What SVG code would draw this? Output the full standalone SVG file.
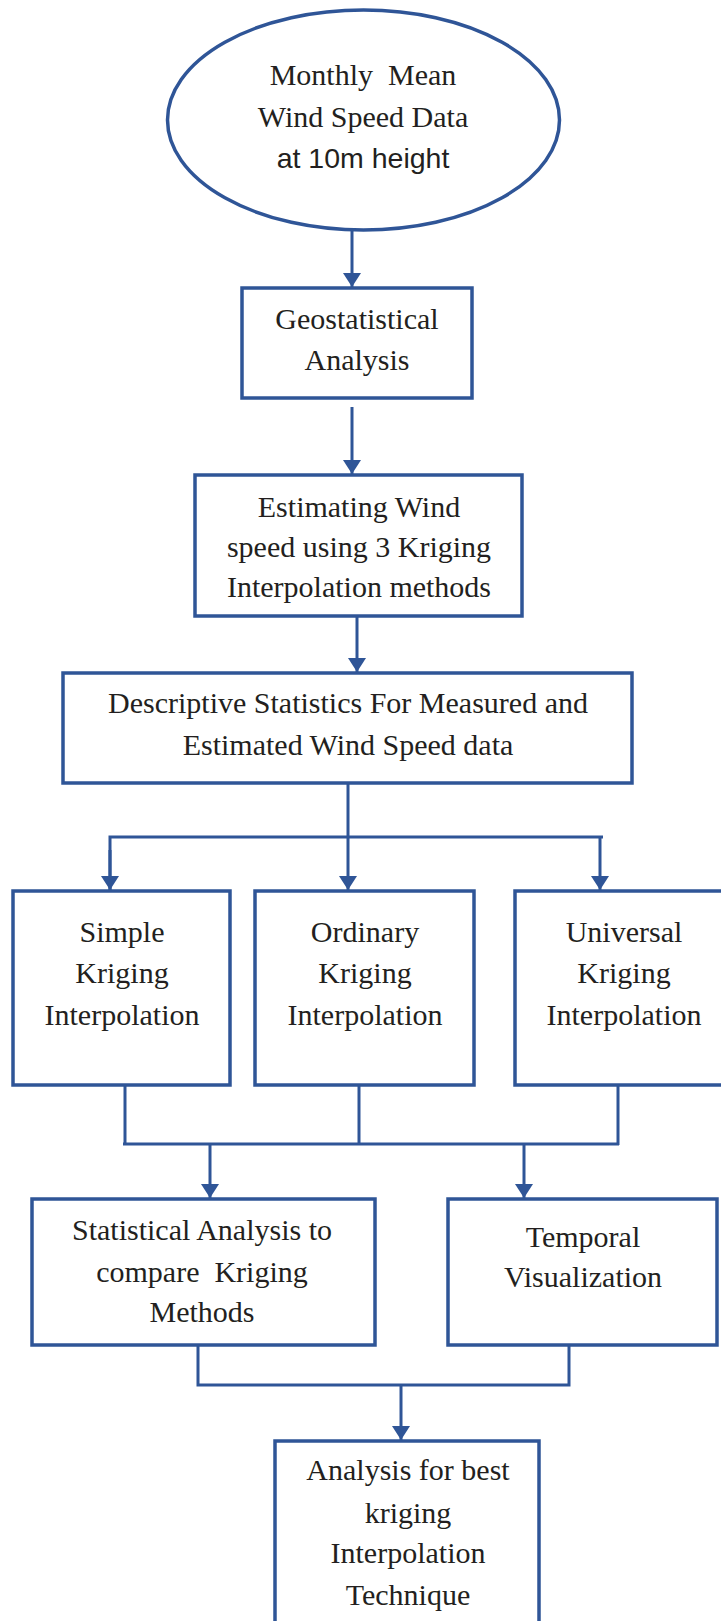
<svg xmlns="http://www.w3.org/2000/svg" width="721" height="1621" viewBox="0 0 721 1621">
<style>
.n{fill:#ffffff;stroke:#2F5597;stroke-width:3.5}
.c{fill:none;stroke:#2F5597;stroke-width:3}
.t{font-family:"Liberation Serif","Times New Roman",serif;font-size:30px;fill:#231f20;text-anchor:middle;white-space:pre}
.s{font-family:"Liberation Sans",Arial,sans-serif;font-size:28.5px;fill:#231f20;text-anchor:middle}
</style>
<defs>
<marker id="ah" markerUnits="userSpaceOnUse" viewBox="0 0 14 18" markerWidth="14" markerHeight="18" refX="14" refY="9" orient="auto">
<path d="M0,0 L14,9 L0,18 z" fill="#2F5597"/>
</marker>
</defs>
<rect width="721" height="1621" fill="#ffffff"/>
<g id="connectors">
<line class="c" x1="352" y1="229" x2="352" y2="287" marker-end="url(#ah)"/>
<line class="c" x1="352" y1="407" x2="352" y2="474" marker-end="url(#ah)"/>
<line class="c" x1="357" y1="617" x2="357" y2="672" marker-end="url(#ah)"/>
<line class="c" x1="348" y1="784" x2="348" y2="890" marker-end="url(#ah)"/>
<polyline class="c" points="110,890 110,837 603,837"/>
<line class="c" x1="110" y1="850" x2="110" y2="890" marker-end="url(#ah)"/>
<line class="c" x1="600" y1="837" x2="600" y2="890" marker-end="url(#ah)"/>
<line class="c" x1="125" y1="1086" x2="125" y2="1145"/>
<line class="c" x1="359" y1="1086" x2="359" y2="1144"/>
<line class="c" x1="618" y1="1086" x2="618" y2="1145"/>
<line class="c" x1="123" y1="1144" x2="619" y2="1144"/>
<line class="c" x1="210" y1="1144" x2="210" y2="1198" marker-end="url(#ah)"/>
<line class="c" x1="524" y1="1144" x2="524" y2="1198" marker-end="url(#ah)"/>
<polyline class="c" points="198,1346 198,1385 569,1385 569,1346"/>
<line class="c" x1="401" y1="1385" x2="401" y2="1440" marker-end="url(#ah)"/>
</g>
<g id="n1">
<ellipse class="n" cx="363.5" cy="120" rx="196" ry="110"/>
<text class="t" x="363" y="85" xml:space="preserve">Monthly  Mean</text>
<text class="t" x="363" y="127">Wind Speed Data</text>
<text class="s" x="363" y="168">at 10m height</text>
</g>
<g id="n2">
<rect class="n" x="242" y="288" width="230" height="110"/>
<text class="t" x="357" y="329">Geostatistical</text>
<text class="t" x="357" y="370">Analysis</text>
</g>
<g id="n3">
<rect class="n" x="195" y="475" width="327" height="141"/>
<text class="t" x="359" y="517">Estimating Wind</text>
<text class="t" x="359" y="557">speed using 3 Kriging</text>
<text class="t" x="359" y="597">Interpolation methods</text>
</g>
<g id="n4">
<rect class="n" x="63" y="673" width="569" height="110"/>
<text class="t" x="348" y="713">Descriptive Statistics For Measured and</text>
<text class="t" x="348" y="755">Estimated Wind Speed data</text>
</g>
<g id="n5">
<rect class="n" x="13" y="891" width="217" height="194"/>
<text class="t" x="122" y="942">Simple</text>
<text class="t" x="122" y="983">Kriging</text>
<text class="t" x="122" y="1025">Interpolation</text>
</g>
<g id="n6">
<rect class="n" x="255" y="891" width="219" height="194"/>
<text class="t" x="365" y="942">Ordinary</text>
<text class="t" x="365" y="983">Kriging</text>
<text class="t" x="365" y="1025">Interpolation</text>
</g>
<g id="n7">
<rect class="n" x="515" y="891" width="210" height="194"/>
<text class="t" x="624" y="942">Universal</text>
<text class="t" x="624" y="983">Kriging</text>
<text class="t" x="624" y="1025">Interpolation</text>
</g>
<g id="n8">
<rect class="n" x="32" y="1199" width="343" height="146"/>
<text class="t" x="202" y="1240">Statistical Analysis to</text>
<text class="t" x="202" y="1282" xml:space="preserve">compare  Kriging</text>
<text class="t" x="202" y="1322">Methods</text>
</g>
<g id="n9">
<rect class="n" x="448" y="1199" width="269" height="146"/>
<text class="t" x="583" y="1247">Temporal</text>
<text class="t" x="583" y="1287">Visualization</text>
</g>
<g id="n10">
<rect class="n" x="275" y="1441" width="264" height="190"/>
<text class="t" x="408" y="1480">Analysis for best</text>
<text class="t" x="408" y="1523">kriging</text>
<text class="t" x="408" y="1563">Interpolation</text>
<text class="t" x="408" y="1605">Technique</text>
</g>
</svg>
